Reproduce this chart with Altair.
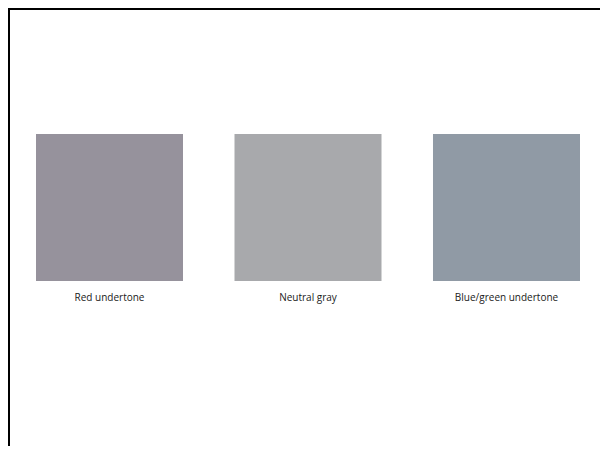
import altair as alt
import pandas as pd

labels = ["Red undertone", "Neutral gray", "Blue/green undertone"]
colors = ["#96929c", "#a8a9ac", "#909aa5"]

df = pd.DataFrame({"label": labels, "color": colors, "row": ["swatch"] * 3})

W, H = 592, 438

xscale = alt.Scale(range=[28, 572], paddingInner=0.2594, paddingOuter=0)

swatches = alt.Chart(df).mark_rect().encode(
    x=alt.X("label:N", sort=labels, axis=None, scale=xscale),
    y=alt.Y("row:N", axis=None, scale=alt.Scale(range=[126, 273], paddingInner=0, paddingOuter=0)),
    color=alt.Color("color:N", scale=None, legend=None),
)

text = alt.Chart(df).mark_text(
    font="Open Sans", fontSize=10, color="#1a1a1a", baseline="alphabetic", align="center"
).encode(
    x=alt.X("label:N", sort=labels, axis=None, scale=xscale),
    y=alt.value(292.5),
    text="label:N",
)

top_border = alt.Chart(df).mark_rule(color="#000000", strokeWidth=2).encode(
    x=alt.value(0), x2=alt.value(W), y=alt.value(1)
)
left_border = alt.Chart(df).mark_rule(color="#000000", strokeWidth=2).encode(
    x=alt.value(1), y=alt.value(0), y2=alt.value(H)
)

chart = alt.layer(swatches, text, top_border, left_border).properties(
    width=W, height=H, autosize=alt.AutoSizeParams(type="none"), padding=0
).configure_view(stroke=None).configure(background="#ffffff")

chart.save("out.html", embed_options={"renderer": "svg", "actions": False})
